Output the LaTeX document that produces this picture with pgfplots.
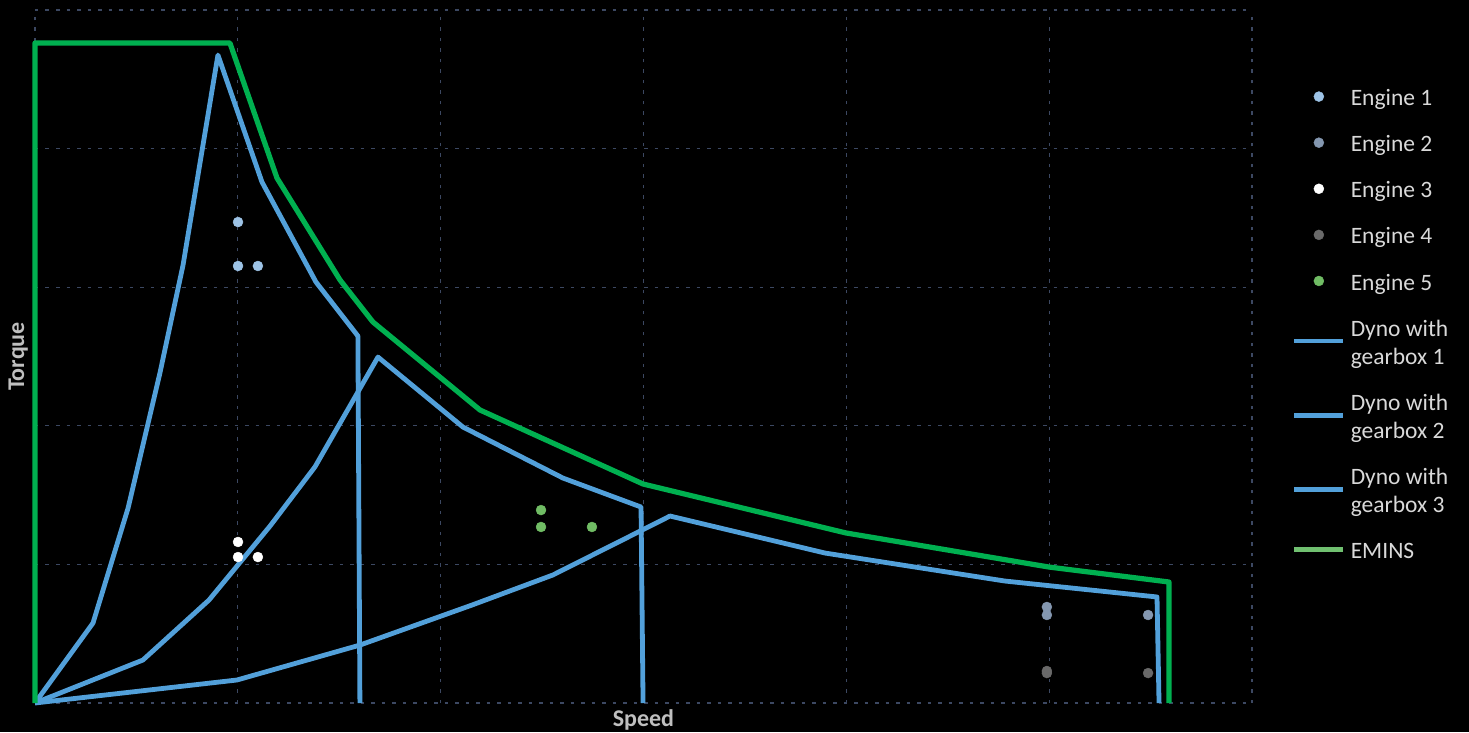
\documentclass[border=0pt]{standalone}
\usepackage{fontspec}
\setmainfont{Carlito}
\usepackage{pgfplots}
\pgfplotsset{compat=1.18}
\definecolor{gridc}{RGB}{60,72,98}
\definecolor{blueline}{RGB}{82,160,218}
\definecolor{greenline}{RGB}{0,176,80}
\definecolor{greenleg}{RGB}{112,192,112}
\definecolor{eng1}{RGB}{157,195,230}
\definecolor{eng2}{RGB}{132,151,176}
\definecolor{eng3}{RGB}{255,255,255}
\definecolor{eng4}{RGB}{105,105,105}
\definecolor{eng5}{RGB}{112,188,100}
\definecolor{legtext}{RGB}{217,217,217}
\definecolor{labtext}{RGB}{191,191,191}
\begin{document}
\begin{tikzpicture}
\fill[black] (0,0) rectangle (1469pt,732pt);
\begin{axis}[
  at={(35pt,29pt)}, anchor=south west,
  scale only axis, width=1217pt, height=693pt,
  xmin=0, xmax=6, ymin=0, ymax=5,
  xtick={0,1,2,3,4,5,6}, ytick={0,1,2,3,4,5},
  xticklabels={}, yticklabels={},
  major tick length=0pt,
  axis line style={draw=none},
  grid=major,
  major grid style={color=gridc, dash pattern=on 3.5pt off 7pt, line width=1.2pt},
  clip=false,
  xlabel={\bfseries Speed}, ylabel={\bfseries Torque},
  label style={font=\fontsize{24}{28}\selectfont, text=labtext},
  xlabel style={at={(axis description cs:0.5,0)}, anchor=base, yshift=-23pt},
  ylabel style={at={(axis description cs:-0.009,0.5)}, anchor=base},
  legend image code/.code={\draw[mark repeat=2,mark phase=2,#1] plot coordinates {(0pt,0pt) (24.5pt,0pt) (49pt,0pt)};},
  legend cell align=left,
  legend style={at={(axis description cs:1.0329,0.8903)}, anchor=north west,
    draw=none, fill=none, inner sep=0pt, outer sep=0pt,
    row sep=25pt, column sep=5pt,
    cells={align=left},
    nodes={inner sep=0pt, text=legtext, font=\fontsize{23.5}{28}\selectfont}},
  every axis plot/.append style={line join=round},
]
% Engines (scatter)
\addplot[only marks, mark=*, mark size=5pt, color=eng1, mark options={fill=eng1, draw=none}] coordinates {(1.001,3.470) (1.001,3.153) (1.099,3.153)};
\addlegendentry{\strut Engine 1}
\addplot[only marks, mark=*, mark size=5pt, color=eng2, mark options={fill=eng2, draw=none}] coordinates {(4.989,0.693) (4.989,0.635) (5.488,0.635)};
\addlegendentry{\strut Engine 2}
\addplot[only marks, mark=*, mark size=5pt, color=eng3, mark options={fill=eng3, draw=none}] coordinates {(1.001,1.162) (1.001,1.053) (1.099,1.053)};
\addlegendentry{\strut Engine 3}
\addplot[only marks, mark=*, mark size=5pt, color=eng4, mark options={fill=eng4, draw=none}] coordinates {(4.989,0.231) (4.989,0.216) (5.488,0.216)};
\addlegendentry{\strut Engine 4}
\addplot[only marks, mark=*, mark size=5pt, color=eng5, mark options={fill=eng5, draw=none}] coordinates {(2.495,1.392) (2.495,1.270) (2.746,1.270)};
\addlegendentry{\strut Engine 5}
% Dyno with gearbox 1
\addplot[no marks, color=blueline, line width=4.8pt] coordinates {
(0,0) (0.286,0.577) (0.459,1.407) (0.616,2.381) (0.730,3.160) (0.902,4.675)
(1.119,3.759) (1.385,3.038) (1.592,2.648) (1.602,0)};
\addlegendentry{\strut Dyno with\\gearbox 1}
% Dyno with gearbox 2
\addplot[no marks, color=blueline, line width=4.8pt] coordinates {
(0,0) (0.532,0.310) (0.858,0.743) (1.159,1.277) (1.380,1.703) (1.691,2.496)
(2.110,1.991) (2.603,1.623) (2.988,1.414) (2.998,0)};
\addlegendentry{\strut Dyno with\\gearbox 2}
% Dyno with gearbox 3
\addplot[no marks, color=blueline, line width=4.8pt] coordinates {
(0,0) (0.996,0.166) (1.602,0.418) (2.155,0.707) (2.554,0.924) (3.131,1.349)
(3.895,1.082) (4.782,0.880) (5.532,0.765) (5.542,0)};
\addlegendentry{\strut Dyno with\\gearbox 3}
% EMINS
\addplot[no marks, color=greenline, line width=5.2pt, legend image post style={color=greenleg, line width=4.5pt}] coordinates {
(0,0) (0,4.762) (0.961,4.762) (1.193,3.788) (1.504,3.052) (1.666,2.749)
(2.194,2.114) (2.998,1.580) (3.998,1.227) (4.999,0.981) (5.591,0.873) (5.591,0)};
\addlegendentry{\strut EMINS}
\end{axis}
\pgfresetboundingbox
\path[use as bounding box] (0,0) rectangle (1469pt,732pt);
\end{tikzpicture}
\end{document}
